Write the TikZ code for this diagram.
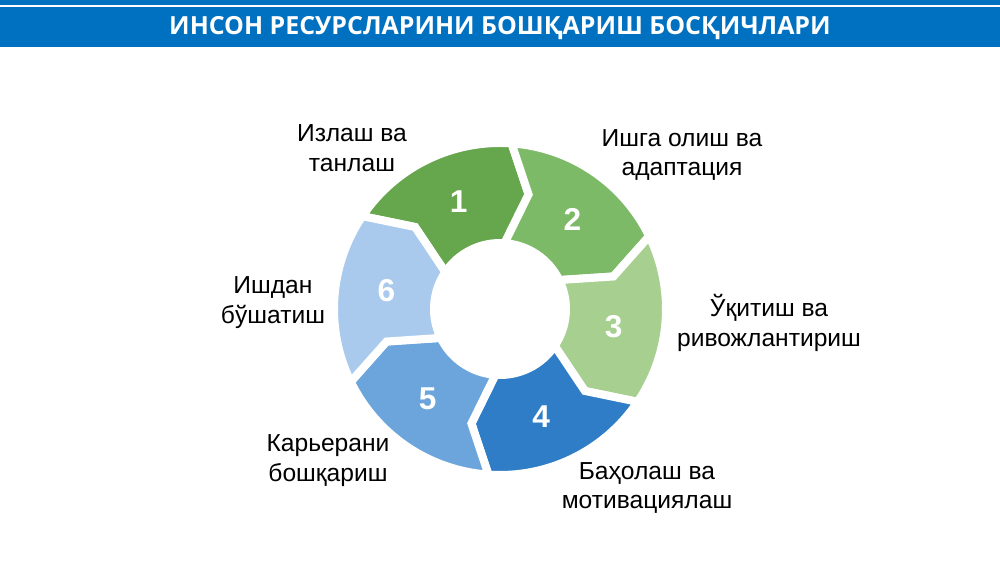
\documentclass[tikz,border=0pt]{standalone}
\usepackage{fontspec}
\setmainfont{Liberation Sans}
\newfontfamily\titlefont{Open Sans}
\usepackage{tikz}

\definecolor{title blue}{HTML}{0070C0}
\definecolor{stage one}{HTML}{66A64D}
\definecolor{stage two}{HTML}{7DBA67}
\definecolor{stage three}{HTML}{A6CF90}
\definecolor{stage four}{HTML}{2F7DC7}
\definecolor{stage five}{HTML}{6BA5DB}
\definecolor{stage six}{HTML}{A9CAEC}

\begin{document}
\begin{tikzpicture}[x=0.02cm, y=0.02cm,
  stage segment/.style={draw=white, line width=0.16cm},
  stage number/.style={text=white, font=\fontsize{18}{18}\selectfont\bfseries},
  stage text/.style={align=center, text=black, font=\fontsize{14}{17}\selectfont}]
\useasboundingbox (-500,-254) rectangle (500,309);

\fill[title blue] (-500,304) rectangle (500,309);
\fill[title blue] (-500,262) rectangle (500,302);
\node[text=white, font=\titlefont\fontsize{14.2}{14.2}\selectfont\bfseries] (title) at (0,281) {ИНСОН РЕСУРСЛАРИНИ БОШҚАРИШ БОСҚИЧЛАРИ};

\path[stage segment, fill=stage one] (146:166) arc[start angle=146, end angle=86, radius=166] -- (76:118) -- (86:66) arc[start angle=86, end angle=146, radius=66] -- (136:118) -- cycle;
\path[stage segment, fill=stage two] (86:166) arc[start angle=86, end angle=26, radius=166] -- (16:118) -- (26:66) arc[start angle=26, end angle=86, radius=66] -- (76:118) -- cycle;
\path[stage segment, fill=stage three] (26:166) arc[start angle=26, end angle=-34, radius=166] -- (-44:118) -- (-34:66) arc[start angle=-34, end angle=26, radius=66] -- (16:118) -- cycle;
\path[stage segment, fill=stage four] (-34:166) arc[start angle=-34, end angle=-94, radius=166] -- (-104:118) -- (-94:66) arc[start angle=-94, end angle=-34, radius=66] -- (-44:118) -- cycle;
\path[stage segment, fill=stage five] (-94:166) arc[start angle=-94, end angle=-154, radius=166] -- (-164:118) -- (-154:66) arc[start angle=-154, end angle=-94, radius=66] -- (-104:118) -- cycle;
\path[stage segment, fill=stage six] (-154:166) arc[start angle=-154, end angle=-214, radius=166] -- (-224:118) -- (-214:66) arc[start angle=-214, end angle=-154, radius=66] -- (-164:118) -- cycle;

\node[stage number] (number 1) at (111:115) {1};
\node[stage number] (number 2) at (51:115) {2};
\node[stage number] (number 3) at (-9:115) {3};
\node[stage number] (number 4) at (-69:115) {4};
\node[stage number] (number 5) at (-129:115) {5};
\node[stage number] (number 6) at (171:115) {6};

\node[stage text] (search label) at (-148,161) {Излаш ва\\танлаш};
\node[stage text] (hiring label) at (182,154) {Ишга олиш ва\\адаптация};
\node[stage text] (training label) at (269,-14) {Ўқитиш ва\\ривожлантириш};
\node[stage text] (rating label) at (147,-179) {Баҳолаш ва\\мотивациялаш};
\node[stage text] (career label) at (-172,-152) {Карьерани\\бошқариш};
\node[stage text] (leaving label) at (-227,6) {Ишдан\\бўшатиш};
\end{tikzpicture}
\end{document}
